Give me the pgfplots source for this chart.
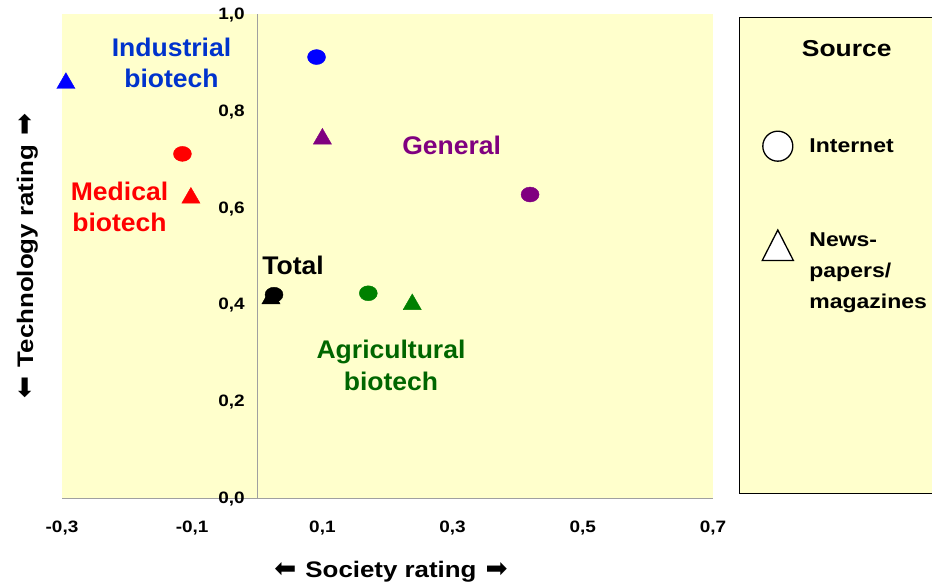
\documentclass[border=0pt]{standalone}
\usepackage{graphicx}
\usepackage{pgfplots}
\pgfplotsset{compat=1.18}
\usepackage{fontspec}
\setmainfont{Liberation Sans}
\newfontfamily\wfont[FakeStretch=1.15]{Liberation Sans}
\newfontfamily\afont[FakeStretch=1.04]{Liberation Sans}
\newfontfamily\arrfont{DejaVu Sans}
\definecolor{bg}{RGB}{255,255,204}
\definecolor{axgray}{RGB}{160,160,160}
\definecolor{mblue}{RGB}{0,0,255}
\definecolor{tblue}{RGB}{0,51,204}
\definecolor{mred}{RGB}{255,0,0}
\definecolor{mpurple}{RGB}{128,0,128}
\definecolor{mgreen}{RGB}{0,128,0}
\definecolor{tgreen}{RGB}{0,102,0}
\newcommand{\tickf}{\wfont\bfseries\fontsize{16.5}{17}\selectfont}
\newcommand{\legf}{\wfont\bfseries\fontsize{20}{31}\selectfont}
\newcommand{\annf}{\afont\bfseries\fontsize{25.5}{31.5}\selectfont}
\newcommand{\labf}{\wfont\bfseries\fontsize{22.5}{26}\selectfont}
\newcommand{\rarr}{\resizebox{22pt}{15pt}{\arrfont ➡}}
\newcommand{\larr}{\resizebox{22pt}{15pt}{\arrfont\reflectbox{➡}}}
\begin{document}
\begin{tikzpicture}[x=1pt,y=1pt]
\path[use as bounding box] (0,0) rectangle (932,582);
\draw[black, line width=0.8pt, fill=bg] (739,565) rectangle (945,89);
\begin{axis}[
  at={(62pt,84pt)}, anchor=south west, scale only axis,
  width=651pt, height=484pt,
  xmin=-0.3, xmax=0.7, ymin=0, ymax=1,
  clip=false,
  axis background/.style={fill=bg},
  axis x line=bottom, axis y line=center,
  axis line style={draw=axgray, line width=1pt, -},
  xtick={-0.3,-0.1,0.1,0.3,0.5,0.7},
  ytick={0,0.2,0.4,0.6,0.8,1},
  major tick length=0pt,
  hide obscured x ticks=false, hide obscured y ticks=false,
  tick label style={font=\tickf,
    /pgf/number format/fixed, /pgf/number format/fixed zerofill,
    /pgf/number format/precision=1, /pgf/number format/use comma,
    /pgf/number format/assume math mode=true},
  xticklabel style={yshift=-19pt},
  yticklabel style={xshift=-9pt, yshift=-1pt},
  legend style={at={(1.0753,0.7583)}, anchor=north west, draw=none, fill=none,
    font=\legf, row sep=62pt, column sep=0pt, inner sep=0pt,
    nodes={inner xsep=16pt}},
  legend cell align=left,
]
% Internet (circles)
\addplot[forget plot, only marks, mark=*, mark size=7.5pt, mblue, mark options={xscale=1.2}] coordinates {(0.091,0.911)};
\addplot[forget plot, only marks, mark=*, mark size=7.5pt, mred, mark options={xscale=1.2}] coordinates {(-0.115,0.711)};
\addplot[forget plot, only marks, mark=*, mark size=7.5pt, mpurple, mark options={xscale=1.2}] coordinates {(0.419,0.627)};
\addplot[forget plot, only marks, mark=*, mark size=7.5pt, mgreen, mark options={xscale=1.2}] coordinates {(0.1705,0.423)};
% Newspapers/magazines (triangles)
\addplot[forget plot, only marks, mark=triangle*, mark size=10.5pt, mblue] coordinates {(-0.294,0.857)};
\addplot[forget plot, only marks, mark=triangle*, mark size=10.5pt, mred] coordinates {(-0.102,0.620)};
\addplot[forget plot, only marks, mark=triangle*, mark size=10.5pt, mpurple] coordinates {(0.100,0.742)};
\addplot[forget plot, only marks, mark=triangle*, mark size=10.5pt, mgreen] coordinates {(0.238,0.400)};
\addplot[forget plot, only marks, mark=triangle*, mark size=10.5pt, black] coordinates {(0.021,0.412)};
\addplot[forget plot, only marks, mark=*, mark size=7.5pt, black, mark options={xscale=1.2}] coordinates {(0.0257,0.420)};
% legend
\addlegendimage{only marks, mark=*, mark size=15pt, mark options={fill=white, draw=black, line width=1.3pt}}
\addlegendentry{Internet}
\addlegendimage{only marks, mark=triangle*, mark size=18pt, mark options={fill=white, draw=black, line width=1.3pt, yscale=1.13, yshift=-12pt}}
\addlegendentry{\begin{tabular}[t]{@{}l@{}}News-\\papers/\\magazines\end{tabular}}
\end{axis}
\node[anchor=base, align=center, text=tblue, font=\annf, inner sep=0pt] at (171.5,494) {Industrial\\biotech};
\node[anchor=base, align=center, text=mred, font=\annf, inner sep=0pt] at (119.5,350) {Medical\\biotech};
\node[anchor=base, text=mpurple, font=\annf, inner sep=0pt] at (451.7,427) {General};
\node[anchor=base, text=black, font=\annf, inner sep=0pt] at (293,307) {Total};
\node[anchor=base, align=center, text=tgreen, font=\annf, inner sep=0pt] at (391,192) {Agricultural\\biotech};
\node[anchor=base, font=\wfont\bfseries\fontsize{23}{28}\selectfont, inner sep=0pt] at (846.7,525.3) {Source};
\node[anchor=base, inner sep=0pt] at (391,5) {\larr\hspace{9pt}{\labf Society rating}\hspace{9pt}\rarr};
\node[anchor=base, rotate=90, inner sep=0pt] at (33,326) {\larr\hspace{9pt}{\labf Technology rating}\hspace{9pt}\rarr};
\end{tikzpicture}
\end{document}
